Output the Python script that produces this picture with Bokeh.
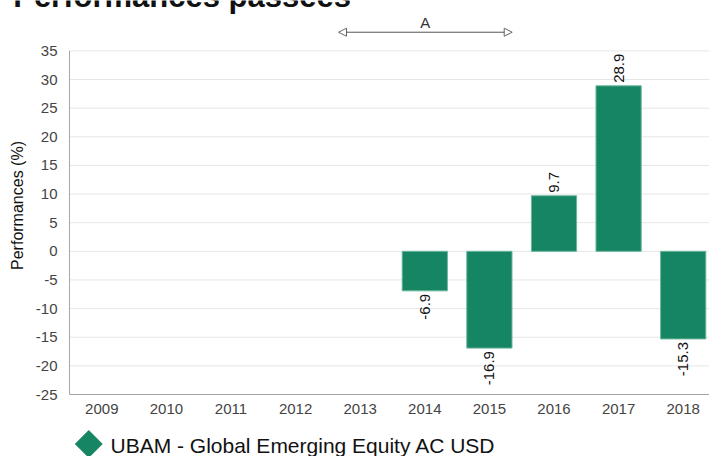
import math
from bokeh.plotting import figure
from bokeh.models import Range1d, FixedTicker, Arrow, NormalHead, Label, ColumnDataSource
from bokeh.embed import file_html
from bokeh.resources import INLINE
from bokeh.core.properties import value

# ---------------- data ----------------
years = ["2009", "2010", "2011", "2012", "2013", "2014", "2015", "2016", "2017", "2018"]
performance = [None, None, None, None, None, -6.9, -16.9, 9.7, 28.9, -15.3]
y_ticks = [-25, -20, -15, -10, -5, 0, 5, 10, 15, 20, 25, 30, 35]
series_name = "UBAM - Global Emerging Equity AC USD"
title_text = "Performances passées"
y_title = "Performances (%)"
period_label = "A"
period_start = 4.164   # in year-slot units (2013 + 0.16)
period_end = 6.853     # (2015 + 0.85)

# ---------------- style ----------------
FONT = "Liberation Sans"
GREEN = "#168564"
EDGE = "#6bb69a"
GRID = "#e6e6e6"
AXIS = "#a6a6a6"

X_MIN, X_MAX = -1.0681, 9.907      # visible x extent (plot area starts at x=0)
Y_MIN, Y_MAX = -35.826, 43.80      # visible y extent (plot area is -25..35)
Y_TOP = 41.0                        # top of the chart area (axis title centring)

xs = [i + 0.5 for i in range(len(years))]
tops = [float("nan") if v is None else v for v in performance]

pos = dict(x=[], y=[], t=[])
neg = dict(x=[], y=[], t=[])
for x, v in zip(xs, performance):
    if v is None:
        continue
    d = pos if v >= 0 else neg
    d["x"].append(x)
    d["y"].append(v)
    d["t"].append(f"{v:.1f}")

p = figure(width=709, height=456,
           x_range=Range1d(X_MIN, X_MAX), y_range=Range1d(Y_MIN, Y_MAX),
           output_backend="svg", toolbar_location=None,
           min_border_left=0, min_border_right=0, min_border_top=0, min_border_bottom=0)
p.outline_line_color = None
p.background_fill_color = "white"
p.border_fill_color = "white"

# horizontal grid lines, only across the plot area
p.segment(x0=[0] * len(y_ticks), x1=[X_MAX] * len(y_ticks), y0=y_ticks, y1=y_ticks,
          line_color=GRID, line_width=1)
# left axis line from -25 to 35
p.segment(x0=[0], x1=[0], y0=[y_ticks[0]], y1=[y_ticks[-1]], line_color=AXIS, line_width=1)
p.xgrid.grid_line_color = None
p.ygrid.grid_line_color = None

p.vbar(x=xs, top=tops, bottom=0, width=0.7, fill_color=GREEN, line_color=EDGE, line_width=1)

p.text(x="x", y="y", text="t", source=ColumnDataSource(pos), angle=math.pi / 2,
       text_align="left", text_baseline="middle", y_offset=-3,
       text_font=value(FONT), text_font_size="15px", text_color="#111111")
p.text(x="x", y="y", text="t", source=ColumnDataSource(neg), angle=math.pi / 2,
       text_align="right", text_baseline="middle", y_offset=3,
       text_font=value(FONT), text_font_size="15px", text_color="#111111")

# axes, pinned at the plot-area edges
p.xaxis.ticker = FixedTicker(ticks=xs)
p.xaxis.major_label_overrides = {x: y for x, y in zip(xs, years)}
p.xaxis.fixed_location = y_ticks[0]
p.xaxis.bounds = (0, X_MAX)
p.yaxis.ticker = FixedTicker(ticks=y_ticks)
p.yaxis.major_label_overrides = {t: str(t) for t in y_ticks}
p.yaxis.fixed_location = 0
p.yaxis.bounds = (y_ticks[0], Y_TOP)
p.yaxis.axis_line_color = None
p.xaxis.axis_line_color = AXIS
for ax in (p.xaxis, p.yaxis):
    ax.major_tick_line_color = None
    ax.minor_tick_line_color = None
    ax.major_label_text_font = FONT
    ax.major_label_text_font_size = "15px"
    ax.major_label_text_color = "#444444"
    ax.major_label_standoff = 6
p.xaxis.major_label_standoff = 3
p.yaxis.axis_label = y_title
p.yaxis.axis_label_text_font = FONT
p.yaxis.axis_label_text_font_size = "16px"
p.yaxis.axis_label_text_font_style = "normal"
p.yaxis.axis_label_text_color = "#111111"
p.yaxis.axis_label_standoff = 7

# period annotation
p.add_layout(Arrow(x_start=period_start, y_start=38.26, x_end=period_end, y_end=38.26,
                   line_color="#555555", line_width=1,
                   start=NormalHead(size=8, fill_color="white", line_color="#666666", line_width=1),
                   end=NormalHead(size=8, fill_color="white", line_color="#666666", line_width=1)))
p.add_layout(Label(x=(period_start + period_end) / 2, y=40.03, text=period_label,
                   text_align="center", text_baseline="middle",
                   text_font=FONT, text_font_size="15px", text_color="#333333"))

# title (partially cut off at the top as in the reference)
p.add_layout(Label(x=-0.8715, y=44.46, text=title_text, text_align="left",
                   text_baseline="middle", text_font=FONT, text_font_size="31px",
                   text_font_style="bold", text_color="#111111"))

# legend (below the axis)
p.scatter([0.2988], [-33.64], marker="square", size=19, angle=math.pi / 4,
          fill_color=GREEN, line_color=GREEN)
p.text([0.6347], [-33.83], text=[series_name], text_font=value(FONT), text_font_size="21px",
       text_baseline="middle", text_align="left", text_color="#111111")

open("out.html", "w").write(file_html(p, INLINE))
